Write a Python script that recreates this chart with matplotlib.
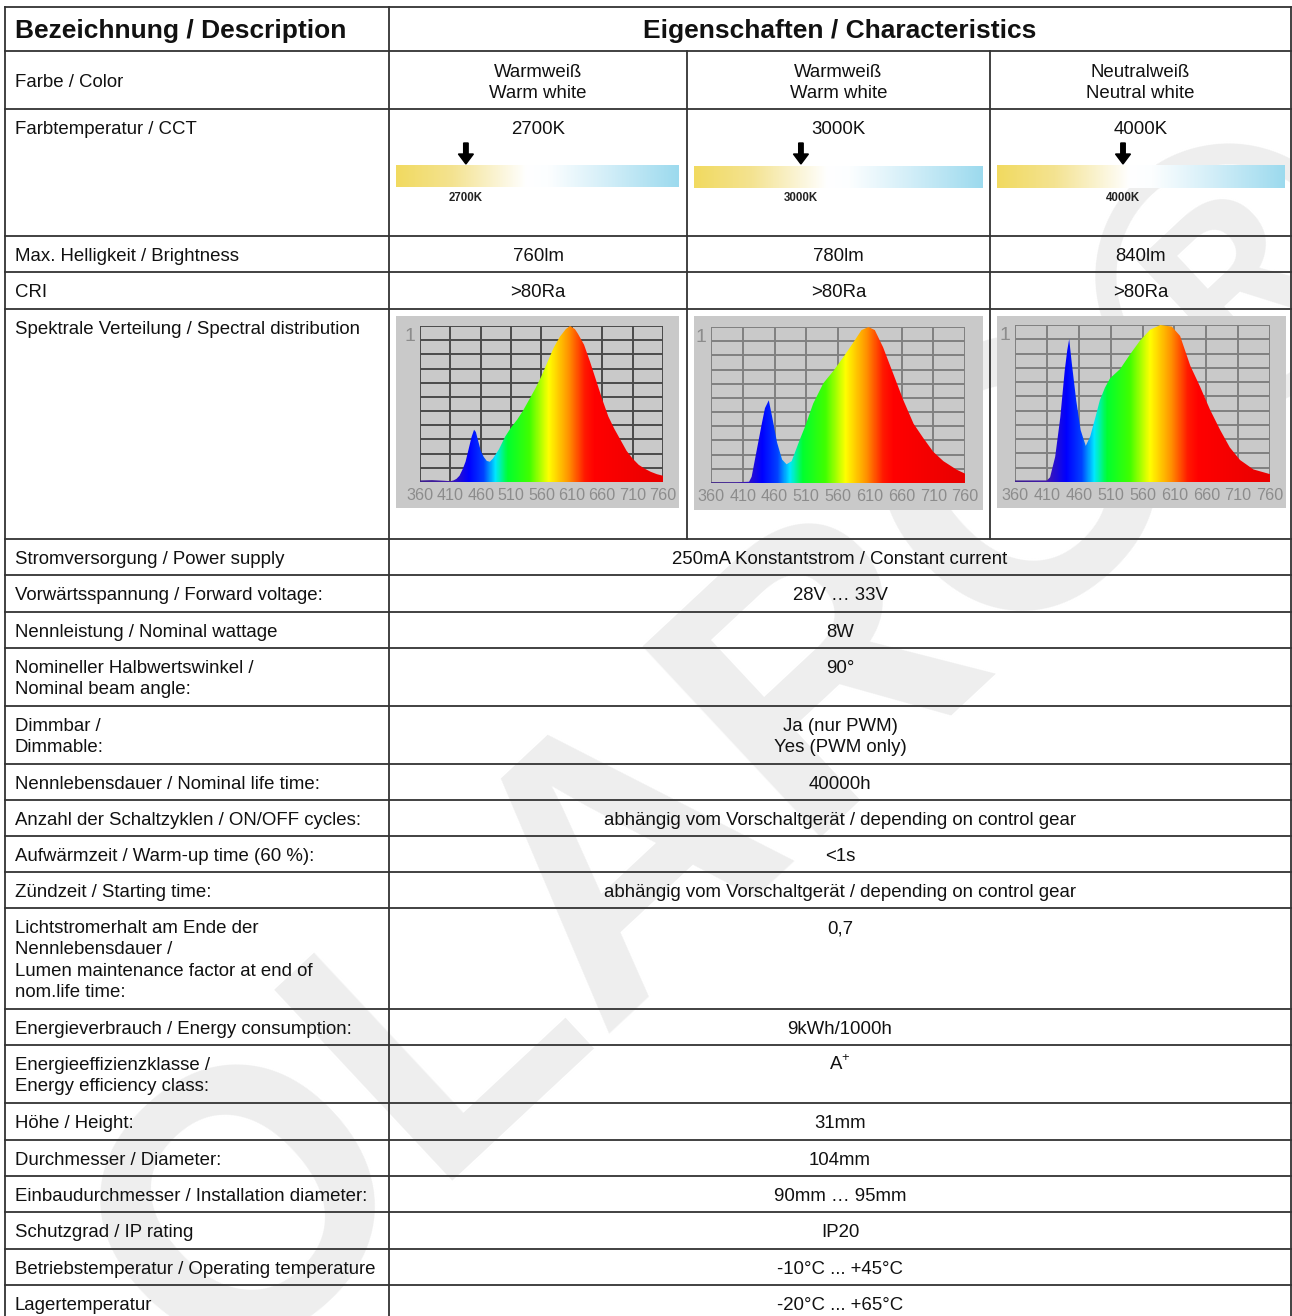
import numpy as np
import matplotlib
matplotlib.use('Agg')
import matplotlib.pyplot as plt
from matplotlib.colors import LinearSegmentedColormap, Normalize

plt.rcParams['font.family'] = ['Liberation Sans', 'DejaVu Sans']
plt.rcParams['mathtext.fontset'] = 'custom'
plt.rcParams['mathtext.rm'] = 'Liberation Sans'

# ---- data ----
header_left = 'Bezeichnung / Description'
header_right = 'Eigenschaften / Characteristics'

split_labels = ['Farbe / Color', 'Farbtemperatur / CCT', 'Max. Helligkeit / Brightness',
                'CRI', 'Spektrale Verteilung / Spectral distribution']
color_names = ['Warmweiß\nWarm white', 'Warmweiß\nWarm white', 'Neutralweiß\nNeutral white']
cct_values = ['2700K', '3000K', '4000K']
brightness = ['760lm', '780lm', '840lm']
cri = ['>80Ra', '>80Ra', '>80Ra']

common_labels = [
    'Stromversorgung / Power supply',
    'Vorwärtsspannung / Forward voltage:',
    'Nennleistung / Nominal wattage',
    'Nomineller Halbwertswinkel /\nNominal beam angle:',
    'Dimmbar /\nDimmable:',
    'Nennlebensdauer / Nominal life time:',
    'Anzahl der Schaltzyklen / ON/OFF cycles:',
    'Aufwärmzeit / Warm-up time (60 %):',
    'Zündzeit / Starting time:',
    'Lichtstromerhalt am Ende der\nNennlebensdauer /\nLumen maintenance factor at end of\nnom.life time:',
    'Energieverbrauch / Energy consumption:',
    'Energieeffizienzklasse /\nEnergy efficiency class:',
    'Höhe / Height:',
    'Durchmesser / Diameter:',
    'Einbaudurchmesser / Installation diameter:',
    'Schutzgrad / IP rating',
    'Betriebstemperatur / Operating temperature',
    'Lagertemperatur',
]
common_values = [
    '250mA Konstantstrom / Constant current',
    '28V … 33V',
    '8W',
    '90°',
    'Ja (nur PWM)\nYes (PWM only)',
    '40000h',
    'abhängig vom Vorschaltgerät / depending on control gear',
    '<1s',
    'abhängig vom Vorschaltgerät / depending on control gear',
    '0,7',
    '9kWh/1000h',
    r'A$^{\mathregular{+}}$',
    '31mm',
    '104mm',
    '90mm … 95mm',
    'IP20',
    '-10°C ... +45°C',
    '-20°C ... +65°C',
]

# spectra (relative intensity)
wl_2700 = [360, 380, 400, 410, 415, 420, 425, 430, 435, 440, 445, 449, 452, 456, 460, 465, 470,
           475, 480, 490, 500, 510, 520, 530, 540, 550, 560, 570, 580, 590, 600, 607, 615, 620,
           630, 640, 650, 660, 670, 680, 690, 700, 710, 720, 730, 740, 750, 760]
sp_2700 = [0.01, 0.012, 0.008, 0.005, 0.01, 0.02, 0.04, 0.08, 0.13, 0.21, 0.29, 0.335, 0.32,
           0.26, 0.20, 0.16, 0.135, 0.13, 0.15, 0.21, 0.29, 0.35, 0.40, 0.46, 0.53, 0.60, 0.68,
           0.77, 0.86, 0.93, 0.98, 1.0, 0.98, 0.95, 0.88, 0.77, 0.65, 0.53, 0.42, 0.34, 0.27,
           0.20, 0.15, 0.11, 0.085, 0.065, 0.05, 0.04]

wl_3000 = [360, 400, 420, 424, 432, 440, 445, 451, 456, 464, 472, 479, 487, 500, 508, 521, 537,
           553, 569, 584, 597, 608, 618, 631, 647, 663, 679, 694, 710, 726, 747, 760]
sp_3000 = [0.005, 0.005, 0.008, 0.04, 0.21, 0.38, 0.48, 0.53, 0.43, 0.26, 0.15, 0.12, 0.14,
           0.28, 0.36, 0.51, 0.64, 0.72, 0.81, 0.90, 0.98, 1.0, 0.98, 0.87, 0.70, 0.53, 0.38,
           0.29, 0.20, 0.14, 0.085, 0.06]

wl_4000 = [360, 400, 410, 415, 423, 431, 438, 442, 445, 449, 456, 463, 471, 478, 486, 493, 501,
           509, 525, 540, 556, 572, 588, 606, 619, 635, 650, 666, 682, 697, 713, 734, 760]
sp_4000 = [0.01, 0.01, 0.01, 0.03, 0.16, 0.41, 0.71, 0.84, 0.91, 0.76, 0.52, 0.33, 0.23, 0.29,
           0.41, 0.52, 0.60, 0.66, 0.72, 0.81, 0.90, 0.97, 1.0, 0.99, 0.93, 0.74, 0.61, 0.46,
           0.33, 0.22, 0.14, 0.08, 0.05]

spectra = [(wl_2700, sp_2700), (wl_3000, sp_3000), (wl_4000, sp_4000)]
wl_ticks = [360, 410, 460, 510, 560, 610, 660, 710, 760]

# ---- layout (pixels) ----
W, H = 1292, 1316
col_x = [5, 389, 687, 990, 1291]
top_y = 7
head_y = 51
split_edges = [51, 109, 236, 272, 309, 539]
common_edges = [539, 575, 612, 648, 706, 764, 800, 836, 872, 908, 1009, 1045, 1103, 1140,
                1176, 1212, 1249, 1285, 1330]
bar_boxes = [(396, 165, 679, 187), (694, 166, 983, 188), (997, 165, 1285, 188)]
arrow_frac = [0.247, 0.37, 0.4375]
spec_boxes = [(396, 316, 679, 508), (694, 316, 983, 510), (997, 316, 1286, 508)]
plot_boxes = [(420, 326, 663, 482), (711, 327, 965, 483), (1015, 325, 1270, 482)]
grid_cols = ['#4a4a4a', '#808080', '#808080']

FS = 13.4
LINE = 21.3
TXT = '#111111'
LINE_C = '#333333'
TICK_C = '#8c8c8c'

fig = plt.figure(figsize=(W / 100, H / 100), dpi=100)
fig.patch.set_facecolor('white')
ax = fig.add_axes([0, 0, 1, 1])
ax.set_xlim(0, W)
ax.set_ylim(H, 0)
ax.axis('off')

# watermark
ax.text(750, 755, 'OLARO®', rotation=43, fontsize=272, fontweight='bold', color='#eeeeee',
        ha='center', va='center', zorder=0)


def cell_text(x, top, s, ha='left', **kw):
    for i, line in enumerate(s.split('\n')):
        ax.text(x, top + 25 + i * LINE, line, ha=ha, va='baseline', fontsize=FS,
                color=TXT, zorder=3, **kw)


# grid lines of table
for y in [top_y, head_y] + split_edges[1:] + common_edges[1:]:
    ax.plot([col_x[0], col_x[-1]], [y, y], color=LINE_C, lw=1.3, zorder=2)
for x in [col_x[0], col_x[1], col_x[-1]]:
    ax.plot([x, x], [top_y, H + 20], color=LINE_C, lw=1.3, zorder=2)
for x in col_x[2:4]:
    ax.plot([x, x], [head_y, split_edges[-1]], color=LINE_C, lw=1.3, zorder=2)

# header
ax.text(15, 31, header_left, fontsize=19, fontweight='bold', va='center', ha='left', color=TXT)
ax.text((col_x[1] + col_x[-1]) / 2, 31, header_right, fontsize=19, fontweight='bold',
        va='center', ha='center', color=TXT)

# split rows
cell_text(15, split_edges[0] + 11, split_labels[0])
for lab, top in zip(split_labels[1:], split_edges[1:-1]):
    cell_text(15, top, lab)
centers = [(col_x[i] + col_x[i + 1]) / 2 for i in range(1, 4)]
for i, c in enumerate(centers):
    cell_text(c, split_edges[0] + 1, color_names[i], ha='center')
    cell_text(c, split_edges[1], cct_values[i], ha='center')
    cell_text(c, split_edges[2], brightness[i], ha='center')
    cell_text(c, split_edges[3], cri[i], ha='center')

# colour temperature bars
bar_cmap = LinearSegmentedColormap.from_list('cct', [
    (0.0, '#f1da60'), (0.2, '#f4e391'), (0.46, '#ffffff'), (0.54, '#fcfeff'),
    (0.75, '#d2eef8'), (1.0, '#9cdaee')])
grad = np.linspace(0, 1, 256)[None, :]
for i, (x0, y0, x1, y1) in enumerate(bar_boxes):
    ax.imshow(grad, extent=[x0, x1, y1, y0], aspect='auto', cmap=bar_cmap, zorder=2)
    xa = x0 + arrow_frac[i] * (x1 - x0)
    ax.arrow(xa, 143, 0, 21, width=4.5, head_width=15, head_length=10,
             length_includes_head=True, color='black', zorder=3)
    ax.text(xa, 198, cct_values[i], fontsize=8.3, fontweight='bold', ha='center',
            va='center', color='#222222', zorder=3)
ax.set_xlim(0, W)
ax.set_ylim(H, 0)

# spectra
spec_cmap = LinearSegmentedColormap.from_list('spec', [
    (0.0, '#3c1e8c'), (0.125, '#4018b0'), (0.2, '#0000ff'), (0.26, '#0040ff'),
    (0.31, '#00e8ff'), (0.36, '#00ff30'), (0.45, '#40ff00'), (0.53, '#ffff00'),
    (0.61, '#ff9600'), (0.68, '#ff1800'), (0.72, '#ff0000'), (1.0, '#e80000')])
rainbow = np.linspace(360, 760, 800)[None, :]
for i, (wl, sp) in enumerate(spectra):
    bx0, by0, bx1, by1 = spec_boxes[i]
    ax.add_patch(plt.Rectangle((bx0, by0), bx1 - bx0, by1 - by0, facecolor='#c9c9c9',
                               edgecolor='none', zorder=2))
    px0, py0, px1, py1 = plot_boxes[i]
    sax = fig.add_axes([px0 / W, 1 - py1 / H, (px1 - px0) / W, (py1 - py0) / H])
    sax.set_facecolor('#c9c9c9')
    for s in sax.spines.values():
        s.set_visible(False)
    sax.vlines(wl_ticks, 0, 1, color=grid_cols[i], lw=1.4, zorder=1)
    sax.hlines(np.linspace(0, 1, 12), 360, 760, color=grid_cols[i], lw=1.4, zorder=1)
    xs = [wl[0]] + list(wl) + [wl[-1]]
    ys = [0] + list(sp) + [0]
    poly = sax.fill(xs, ys, facecolor='none', edgecolor='none')[0]
    im = sax.imshow(rainbow, extent=[360, 760, 0, 1], aspect='auto', cmap=spec_cmap,
                    norm=Normalize(360, 760), zorder=2)
    im.set_clip_path(poly)
    sax.set_xlim(360, 760)
    sax.set_ylim(0, 1)
    sax.set_xticks(wl_ticks)
    sax.set_xticklabels([str(t) for t in wl_ticks])
    sax.set_yticks([])
    sax.tick_params(axis='x', length=0, pad=4, labelsize=11.6, labelcolor=TICK_C)
    sax.text(-0.02, 0.93, '1', transform=sax.transAxes, ha='right', va='center',
             fontsize=14, color=TICK_C)

# common rows
for lab, val, top in zip(common_labels, common_values, common_edges[:-1]):
    cell_text(15, top, lab)
    cell_text((col_x[1] + col_x[-1]) / 2, top, val, ha='center')

fig.savefig('out.png', dpi=100, facecolor='white')
